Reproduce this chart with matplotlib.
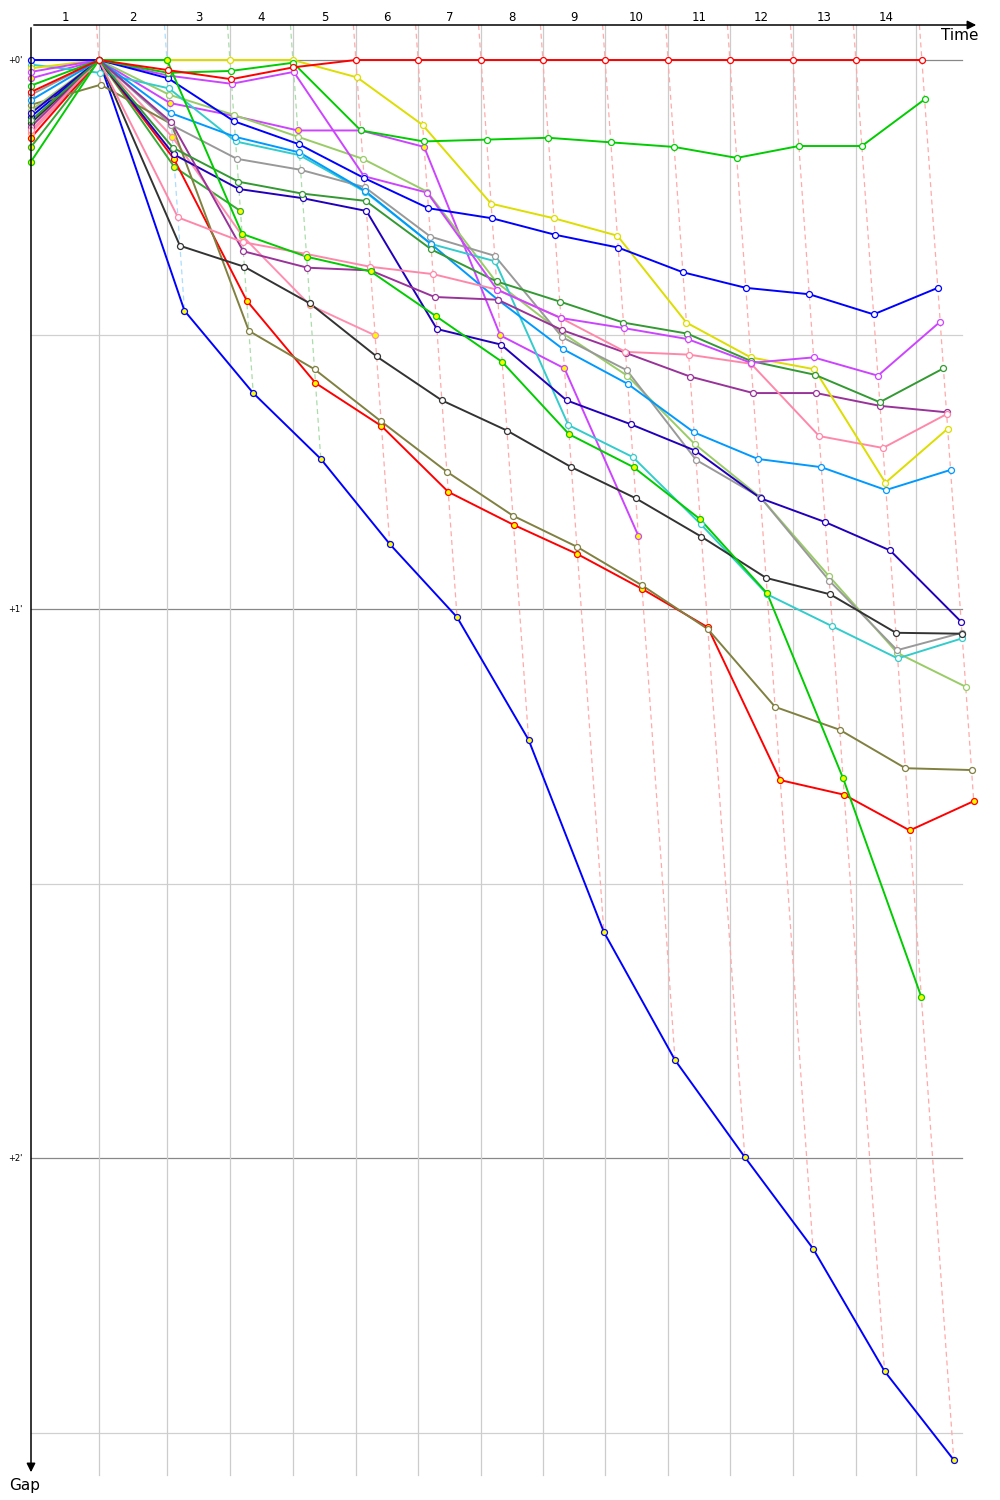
import matplotlib
matplotlib.use("Agg")
import matplotlib.pyplot as plt

# leader crossing time at the end of each lap (minutes), lap 0 = start
leader_time = [0, 1.77, 3.54, 5.18, 6.82, 8.46, 10.08, 11.72, 13.33, 14.95,
               16.59, 18.20, 19.84, 21.48, 23.20]
# vertical lap grid lines (minutes)
grid_time = [1.77, 3.54, 5.18, 6.82, 8.46, 10.08, 11.72, 13.33, 14.95,
             16.59, 18.20, 19.84, 21.48, 23.05]
lap_labels = [str(i) for i in range(1, 15)]
lap_line_colors = ['#ffaaaa', '#aaddff', '#aaddaa', '#aaddaa'] + ['#ffaaaa'] * 10

# gap to leader in seconds, one value per lap (lap 0 = grid)
red_1    = [3.5, 0, 1.1, 2.1, 0.8, 0, 0, 0, 0, 0, 0, 0, 0, 0, 0]
green_1  = [2.8, 0, 1.4, 1.2, 0.3, 7.7, 8.9, 8.7, 8.5, 9.0, 9.5, 10.7, 9.4, 9.4, 4.3]
green_2  = [11.1, 0, 0, 19.0, 21.5, 23.1, 28.0, 33.0, 40.9, 44.5, 50.2, 58.3, 78.5, 102.4]
blue_1   = [0, 0, 2.0, 6.7, 9.2, 12.9, 16.2, 17.3, 19.1, 20.5, 23.2, 24.9, 25.6, 27.8, 24.9]
violet_1 = [1.3, 0, 1.7, 2.6, 1.3, 12.7, 14.5, 25.1, 28.2, 29.3, 30.5, 33.1, 32.5, 34.5, 28.6]
dkgreen  = [6.6, 0, 9.6, 13.3, 14.6, 15.4, 20.7, 24.2, 26.4, 28.7, 29.9, 32.9, 34.4, 37.4, 33.7]
yellow   = [0.9, 0, 0, 0, 0, 1.9, 7.1, 15.7, 17.3, 19.2, 28.7, 32.5, 33.8, 46.2, 40.3]
pink_1   = [7.7, 0, 17.2, 19.9, 21.2, 22.6, 23.4, 25.1, 28.2, 31.9, 32.2, 33.2, 41.1, 42.4, 38.7]
purple   = [7.3, 0, 6.8, 20.9, 22.7, 23.0, 25.9, 26.2, 29.5, 32.0, 34.6, 36.4, 36.4, 37.8, 38.5]
skyblue  = [4.4, 0, 5.8, 8.4, 10.1, 14.3, 20.1, 26.2, 31.6, 35.4, 40.7, 43.6, 44.5, 47.0, 44.8]
navy     = [5.8, 0, 10.3, 14.1, 15.1, 16.5, 29.4, 31.1, 37.2, 39.8, 42.7, 47.9, 50.5, 53.6, 61.4]
black    = [6.9, 0, 20.3, 22.6, 26.6, 32.4, 37.2, 40.5, 44.5, 47.9, 52.1, 56.6, 58.4, 62.6, 62.7]
grey     = [3.8, 0, 7.1, 10.8, 12.0, 13.9, 19.3, 21.4, 30.3, 33.9, 43.7, 47.8, 56.9, 64.5, 62.6]
cyan     = [0.5, 1.4, 3.1, 8.9, 10.4, 14.4, 20.1, 22.0, 39.9, 43.4, 50.7, 58.4, 61.9, 65.4, 63.2]
lime     = [5.5, 0, 3.8, 6.0, 8.4, 10.8, 14.4, 24.3, 29.8, 34.5, 42.0, 47.8, 56.4, 64.8, 68.5]
olive    = [4.9, 2.7, 7.0, 29.6, 33.8, 39.5, 45.0, 49.8, 53.2, 57.4, 62.2, 70.7, 73.2, 77.4, 77.6]
red_2    = [8.5, 0, 10.8, 26.3, 35.3, 40.0, 47.2, 50.8, 54.0, 57.8, 62.0, 78.7, 80.3, 84.2, 81.0]
blue_2   = [6.2, 0, 27.4, 36.4, 43.6, 52.9, 60.9, 74.3, 95.3, 109.3, 119.9, 129.9, 143.3, 153.0]
violet_2 = [2.0, 0, 4.7, 6.1, 7.7, 7.7, 9.5, 30.1, 33.7, 52.0]
pink_2   = [8.0, 0, 8.4, 19.2, 26.8, 30.1]
green_3  = [9.5, 0, 11.7, 16.5]

drivers = [
    (green_3, '#33aa33', True), (pink_2, '#ff8fb0', True), (violet_2, '#cc44ff', True),
    (blue_2, '#0000ff', True), (red_2, '#ff0000', True), (olive, '#808040', False),
    (lime, '#99cc66', False), (cyan, '#33cccc', False), (grey, '#999999', False),
    (black, '#333333', False), (navy, '#2200bb', False), (skyblue, '#0099ff', False),
    (purple, '#993399', False), (pink_1, '#ff88aa', False), (yellow, '#dddd00', False),
    (dkgreen, '#339933', False), (violet_1, '#cc44ff', False), (blue_1, '#0000ff', False),
    (green_2, '#00cc00', True), (green_1, '#00cc00', False), (red_1, '#ff0000', False),
]

X_PX = 38.4   # px per minute horizontally
Y_PX = 549.0  # px per minute vertically
W, H = 1000, 1500

fig = plt.figure(figsize=(10, 15), dpi=100)
ax = fig.add_axes([0, 0, 1, 1])
ax.set_xlim(-31 / X_PX, (W - 31) / X_PX)
ax.set_ylim((H - 60) / Y_PX, -60 / Y_PX)
ax.axis('off')

top = -35 / Y_PX
bottom = 1415 / Y_PX
right = 939 / X_PX

# horizontal grid: every 30 s
for k in range(6):
    g = k * 0.5
    ax.plot([0, right - 0.2], [g, g], color='#888888' if k % 2 == 0 else '#d0d0d0',
            lw=0.9, zorder=1)
for k in range(3):
    ax.text(-0.22, k, "+%d'" % k, ha='right', va='center', fontsize=6)

# vertical lap grid and lap numbers
prev = 0
for t, lab in zip(grid_time, lap_labels):
    ax.plot([t, t], [top, bottom], color='#cccccc', lw=0.9, zorder=1)
    ax.text((prev + t) / 2, -43 / Y_PX, lab, ha='center', va='center', fontsize=8.5)
    prev = t

# dashed lines joining the same lap across drivers
for n in range(1, len(leader_time)):
    gs = [d[0][n] / 60 for d in drivers if len(d[0]) > n]
    gmax = max(gs)
    ax.plot([leader_time[n] + top, leader_time[n] + gmax], [top, gmax],
            color=lap_line_colors[n - 1], lw=0.9, ls=(0, (4, 3)), zorder=2)

# driver traces
for gaps, col, yel in drivers:
    xs = [leader_time[i] + (g / 60 if i > 0 else 0) for i, g in enumerate(gaps)]
    ys = [g / 60 for g in gaps]
    ax.plot(xs, ys, color=col, lw=1.4, zorder=3)
    ax.plot(xs, ys, 'o', ms=4.3, mfc='#ffff00' if yel else 'white', mec=col,
            mew=0.9, zorder=4, clip_on=False)

# axes with arrows
ax.annotate('', xy=(948 / X_PX, top), xytext=(0, top),
            arrowprops=dict(arrowstyle='-|>', color='black', lw=1.1,
                            mutation_scale=13), zorder=5)
ax.annotate('', xy=(0, bottom), xytext=(0, top),
            arrowprops=dict(arrowstyle='-|>', color='black', lw=1.1,
                            mutation_scale=13), zorder=5)
ax.text(929 / X_PX, -25 / Y_PX, 'Time', ha='center', va='center', fontsize=11)
ax.text(-6 / X_PX, 1425 / Y_PX, 'Gap', ha='center', va='center', fontsize=11)

fig.savefig('out.png', dpi=100)
